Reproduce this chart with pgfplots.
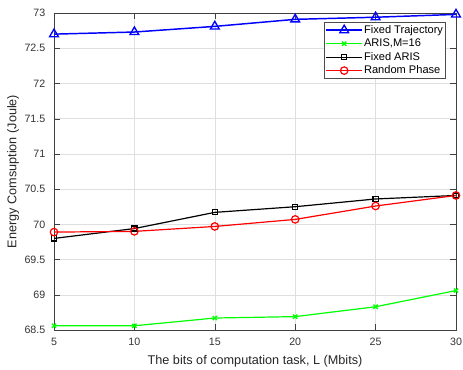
\documentclass[border=0pt]{standalone}
\usepackage{pgfplots}
\pgfplotsset{compat=1.18}
\usepackage{fontspec}
\setmainfont{Liberation Sans}
\begin{document}
\begin{tikzpicture}
\begin{axis}[
  scale only axis,
  width=301.5pt, height=237.75pt,
  xmin=5, xmax=30, ymin=68.5, ymax=73,
  xtick={5,10,15,20,25,30},
  ytick={68.5,69,69.5,70,70.5,71,71.5,72,72.5,73},
  yticklabel style={/pgf/number format/fixed, /pgf/number format/precision=1, xshift=-3pt},
  xticklabel style={yshift=-2.5pt},
  /pgf/number format/assume math mode=true,
  grid=major,
  major grid style={gray!25, line width=0.4pt},
  axis line style={black!75},
  tick style={black!75},
  tick align=inside,
  tick label style={font=\fontsize{8}{9}\selectfont, text=black!80},
  label style={font=\fontsize{9.5}{11}\selectfont, text=black!85},
  xlabel={The bits of computation task, L (Mbits)},
  ylabel={Energy Comsuption (Joule)},
  xlabel style={at={(axis description cs:0.5,-0.1)}, anchor=center},
  ylabel style={at={(axis description cs:-0.102,0.5)}, rotate=0, anchor=center},
  legend style={at={(0.975,0.972)}, anchor=north east, font=\fontsize{8.3}{10}\selectfont, draw=black!70, cells={anchor=west}, inner sep=1pt, row sep=0pt,
    nodes={inner sep=1pt, text height=6.3pt, text depth=1.8pt}},
  legend cell align=left,
  legend image code/.code={\draw[mark repeat=2,mark phase=2] plot coordinates {(0cm,0cm) (0.47cm,0cm) (0.94cm,0cm)};},
]
\addplot[blue, line width=1.1pt, mark=triangle, mark size=3.8pt, mark options={solid, line width=1pt}] coordinates {(5,72.70) (10,72.73) (15,72.81) (20,72.91) (25,72.94) (30,72.98)};
\addlegendentry{Fixed Trajectory}
\addplot[green, line width=0.9pt, mark=x, mark size=2.2pt, mark options={line width=1pt}] coordinates {(5,68.56) (10,68.56) (15,68.67) (20,68.69) (25,68.83) (30,69.06)};
\addlegendentry{ARIS,M=16}
\addplot[black, line width=0.9pt, mark=square, mark size=1.9pt] coordinates {(5,69.80) (10,69.94) (15,70.17) (20,70.25) (25,70.36) (30,70.41)};
\addlegendentry{Fixed ARIS}
\addplot[red, line width=0.9pt, mark=o, mark size=2.8pt] coordinates {(5,69.89) (10,69.90) (15,69.97) (20,70.07) (25,70.26) (30,70.41)};
\addlegendentry{Random Phase}
\end{axis}
\pgfresetboundingbox
\path (current axis.south west) ++(-40.5pt,-30pt);
\path (current axis.north east) ++(5.25pt,9.75pt);
\end{tikzpicture}
\end{document}
